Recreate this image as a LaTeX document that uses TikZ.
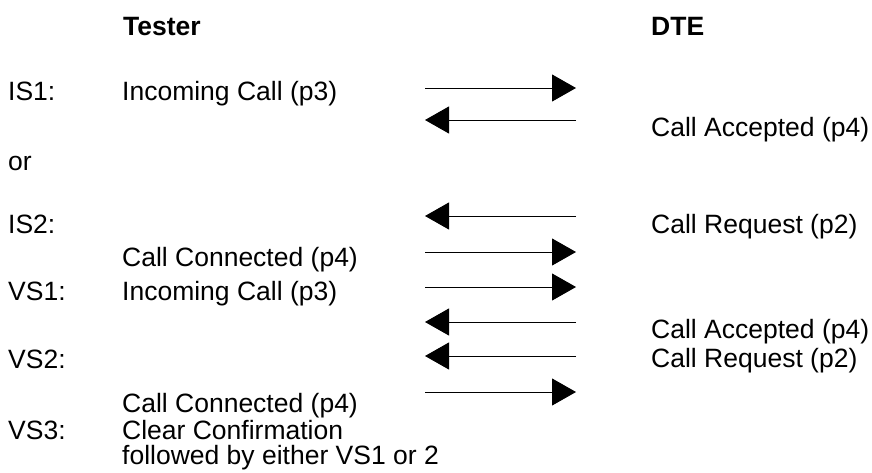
\documentclass[tikz,border=0pt]{standalone}
\usepackage{fontspec}
\setmainfont{Liberation Sans}
\usetikzlibrary{arrows.meta}
\newcommand{\msgfont}{\fontsize{26.5}{25.5}\selectfont}

\begin{document}
\begin{tikzpicture}[x=1pt,y=-1pt,
  lbl/.style={anchor=base west,inner sep=0pt,font=\msgfont},
  hdr/.style={lbl,font=\msgfont\bfseries},
  msg/.style={-{Triangle[length=24pt,width=27pt]},line width=1pt}]
\useasboundingbox (0,0) rectangle (872,472);
% column heads
\node[hdr] (tester) at (123,35) {Tester};
\node[hdr] (dte) at (651,35) {DTE};
% tester side
\node[lbl] (is1) at (8,100) {IS1:};
\node[lbl] (inc1) at (122,100) {Incoming Call (p3)};
\node[lbl] (alt) at (8,170) {or};
\node[lbl] (is2) at (8,233) {IS2:};
\node[lbl] (con1) at (122,266) {Call Connected (p4)};
\node[lbl] (vs1) at (8,300) {VS1:};
\node[lbl] (inc2) at (122,300) {Incoming Call (p3)};
\node[lbl] (vs2) at (8,368) {VS2:};
\node[lbl] (con2) at (122,412) {Call Connected (p4)};
\node[lbl] (vs3) at (8,439) {VS3:};
\node[lbl,align=left,anchor=north west] (clr) at (122,419.7) {Clear Confirmation\\followed by either VS1 or 2};
% DTE side
\node[lbl] (acc1) at (651,136) {Call Accepted (p4)};
\node[lbl] (req1) at (651,233) {Call Request (p2)};
\node[lbl] (acc2) at (651,338) {Call Accepted (p4)};
\node[lbl] (req2) at (651,367) {Call Request (p2)};
% messages: tester to DTE
\foreach \n/\y in {1/88,4/252,5/287,8/392} {
  \coordinate (t\n) at (425,\y); \coordinate (d\n) at (576,\y);
  \draw[msg] (t\n) -- (d\n);
}
% messages: DTE to tester
\foreach \n/\y in {2/120,3/216,6/322,7/356} {
  \coordinate (t\n) at (425,\y); \coordinate (d\n) at (576,\y);
  \draw[msg] (d\n) -- (t\n);
}
\end{tikzpicture}
\end{document}
